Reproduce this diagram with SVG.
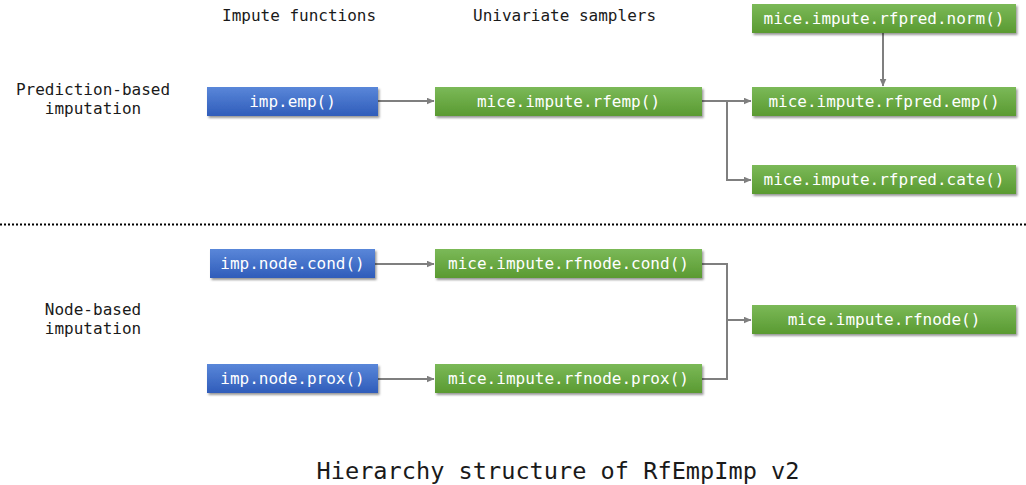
<svg xmlns="http://www.w3.org/2000/svg" width="1026" height="485" viewBox="0 0 1026 485">
<style>
.lbl{font-family:"DejaVu Sans Mono","Liberation Mono",monospace;font-size:16px;fill:#1a1a1a}
.nt{font-family:"DejaVu Sans Mono","Liberation Mono",monospace;font-size:16px;fill:#ffffff;text-anchor:middle}
.title{font-family:"DejaVu Sans Mono","Liberation Mono",monospace;font-size:23.6px;fill:#1a1a1a;text-anchor:middle}
.blue{fill:url(#gb);filter:url(#sh)}
.green{fill:url(#gg);filter:url(#sh)}
.conn{fill:none;stroke:#7f7f7f;stroke-width:2}
</style>
<defs>
<linearGradient id="gb" x1="0" y1="0" x2="0" y2="1"><stop offset="0" stop-color="#5a87d9"/><stop offset="1" stop-color="#2f5cba"/></linearGradient>
<linearGradient id="gg" x1="0" y1="0" x2="0" y2="1"><stop offset="0" stop-color="#7bb958"/><stop offset="1" stop-color="#5a9a31"/></linearGradient>
<filter id="sh" x="-10%" y="-30%" width="120%" height="170%"><feDropShadow dx="1.5" dy="2" stdDeviation="1.2" flood-color="#000" flood-opacity="0.4"/></filter>
<marker id="ar" markerWidth="8" markerHeight="7" refX="7.5" refY="3.5" orient="auto" markerUnits="userSpaceOnUse" viewBox="0 0 8 7"><path d="M0,0 L8,3.5 L0,7 Z" fill="#7f7f7f"/></marker>
</defs>
<rect width="1026" height="485" fill="#ffffff"/>
<text class="lbl" x="222" y="21">Impute functions</text>
<text class="lbl" x="473" y="21">Univariate samplers</text>
<text class="lbl" x="93" y="95" text-anchor="middle">Prediction-based</text>
<text class="lbl" x="93" y="114" text-anchor="middle">imputation</text>
<text class="lbl" x="93" y="315" text-anchor="middle">Node-based</text>
<text class="lbl" x="93" y="334" text-anchor="middle">imputation</text>
<line x1="0" y1="224.5" x2="1026" y2="224.5" stroke="#000" stroke-width="2" stroke-dasharray="2,2"/>
<g id="connectors">
<path class="conn" d="M378,101 H434" marker-end="url(#ar)"/>
<path class="conn" d="M883,33 V86" marker-end="url(#ar)"/>
<path class="conn" d="M702,101 H751" marker-end="url(#ar)"/>
<path class="conn" d="M727,101 V180 H751" marker-end="url(#ar)"/>
<path class="conn" d="M375,264 H434" marker-end="url(#ar)"/>
<path class="conn" d="M378,379 H434" marker-end="url(#ar)"/>
<path class="conn" d="M702,264 H727 V379 H702"/>
<path class="conn" d="M727,320 H751" marker-end="url(#ar)"/>
</g>
<g id="imp_emp"><rect class="blue" x="207" y="87" width="171" height="29"/><text class="nt" x="292.5" y="107">imp.emp()</text></g>
<g id="rfemp"><rect class="green" x="435" y="87" width="267" height="29"/><text class="nt" x="568.5" y="107">mice.impute.rfemp()</text></g>
<g id="rfpred_norm"><rect class="green" x="752" y="4" width="264" height="29"/><text class="nt" x="884" y="24">mice.impute.rfpred.norm()</text></g>
<g id="rfpred_emp"><rect class="green" x="752" y="87" width="264" height="29"/><text class="nt" x="884" y="107">mice.impute.rfpred.emp()</text></g>
<g id="rfpred_cate"><rect class="green" x="752" y="165" width="264" height="29"/><text class="nt" x="884" y="185">mice.impute.rfpred.cate()</text></g>
<g id="imp_node_cond"><rect class="blue" x="210" y="249" width="165" height="29"/><text class="nt" x="292.5" y="269">imp.node.cond()</text></g>
<g id="imp_node_prox"><rect class="blue" x="207" y="364" width="171" height="29"/><text class="nt" x="292.5" y="384">imp.node.prox()</text></g>
<g id="rfnode_cond"><rect class="green" x="435" y="249" width="267" height="29"/><text class="nt" x="568.5" y="269">mice.impute.rfnode.cond()</text></g>
<g id="rfnode_prox"><rect class="green" x="435" y="364" width="267" height="29"/><text class="nt" x="568.5" y="384">mice.impute.rfnode.prox()</text></g>
<g id="rfnode"><rect class="green" x="752" y="305" width="264" height="29"/><text class="nt" x="884" y="325">mice.impute.rfnode()</text></g>
<text class="title" x="558" y="479">Hierarchy structure of RfEmpImp v2</text>
</svg>
